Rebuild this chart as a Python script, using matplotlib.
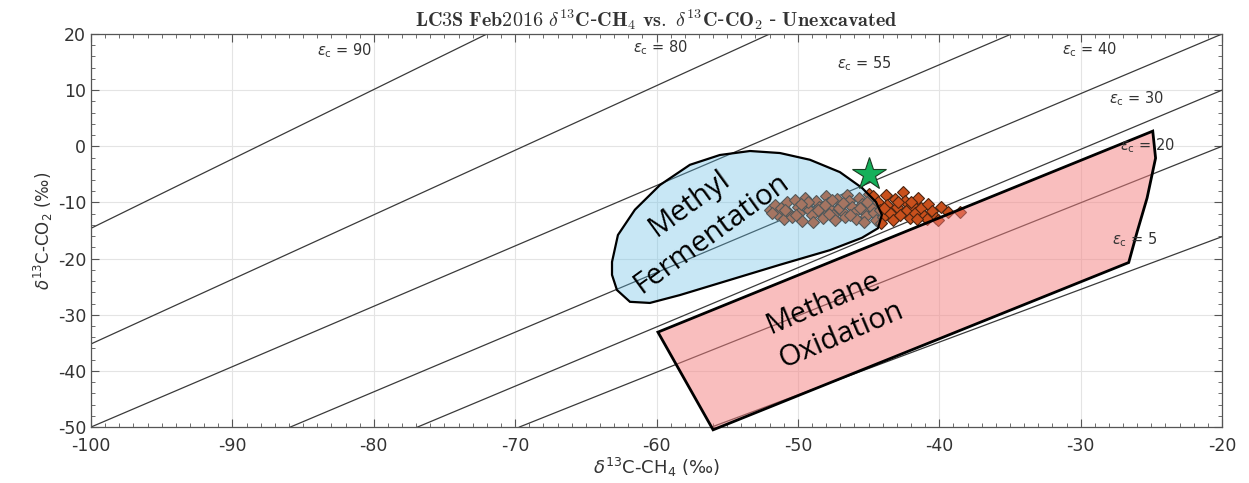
"""
plot.py
Carbon isotope cross-plot: d13C-CH4 vs d13C-CO2 with epsilon_c reference lines.
"""
import numpy as np
import matplotlib
matplotlib.use('Agg')
import matplotlib.pyplot as plt
from matplotlib.patches import Polygon
from matplotlib.ticker import MultipleLocator

plt.rcParams['axes.unicode_minus'] = False

# === DATA ===
# epsilon_c reference lines, endpoints (x = d13C-CH4, y = d13C-CO2)
eps_x0 = [-100.0, -100.0, -100.0, -85.9, -76.9, -69.7, -56.1]
eps_y0 = [-14.6, -35.2, -50.0, -50.0, -50.0, -50.0, -50.0]
eps_x1 = [-72.0, -52.0, -34.9, -20.0, -20.0, -20.0, -20.0]
eps_y1 = [20.0, 20.0, 20.0, 20.0, 10.0, 0.0, -16.1]

eps_labels = ['90', '80', '55', '40', '30', '20', '5']
eps_lab_x = [-84.0, -61.7, -47.2, -31.3, -28.0, -27.2, -27.8]
eps_lab_y = [17.1, 17.5, 14.8, 17.3, 8.4, 0.2, -16.7]

# samples
ch4 = [-52.0, -51.6, -51.5, -51.2, -51.0, -50.8, -50.6, -50.4, -50.2, -50.0,
       -49.9, -49.7, -49.5, -49.4, -49.2, -49.0, -48.9, -48.7, -48.5, -48.4,
       -48.2, -48.0, -47.9, -47.7, -47.5, -47.4, -47.2, -47.0, -46.9, -46.7,
       -46.5, -46.4, -46.2, -46.0, -45.9, -45.7, -45.5, -45.4, -45.2, -45.0,
       -44.9, -44.8, -44.6, -44.5, -51.8, -50.9, -50.1, -49.3, -48.6, -47.8,
       -47.1, -46.3, -45.6, -45.1, -48.1, -49.8, -46.8, -44.7, -45.3, -47.6,
       -44.3, -44.2, -44.0, -43.8, -43.7, -43.5, -43.3, -43.1, -43.0, -42.8,
       -42.6, -42.4, -42.3, -42.1, -41.9, -41.7, -41.5, -41.3, -41.1, -40.8,
       -40.5, -40.2, -39.9, -39.4, -38.5, -43.9, -42.9, -42.0, -40.9, -44.1,
       -41.6, -40.1]
co2 = [-11.3, -10.5, -12.0, -11.0, -13.0, -10.0, -11.8, -12.6, -9.6, -10.8,
       -11.9, -13.3, -9.2, -10.4, -11.4, -12.3, -13.5, -9.8, -10.9, -11.9,
       -12.8, -8.9, -10.1, -11.1, -12.2, -13.2, -9.4, -10.6, -11.6, -12.6,
       -8.6, -9.8, -10.9, -11.9, -13.0, -9.2, -10.3, -11.4, -12.4, -8.5,
       -9.7, -10.8, -11.8, -13.1, -11.8, -11.4, -12.2, -10.0, -11.4, -12.0,
       -11.0, -12.3, -11.0, -10.0, -10.4, -10.2, -10.1, -8.8, -13.4, -9.6,
       -9.9, -11.3, -12.6, -8.6, -10.5, -11.8, -13.2, -9.4, -10.9, -12.2,
       -8.2, -9.8, -11.4, -12.7, -10.5, -11.9, -9.2, -11.0, -12.4, -10.2,
       -11.6, -12.8, -10.9, -11.7, -11.7, -11.0, -9.9, -10.0, -13.0, -13.6,
       -12.9, -13.1]

star_x = [-45.0]
star_y = [-4.9]

# hand drawn regions
ferm_x = [-63.15, -62.73, -61.53, -59.76, -57.64, -55.52, -53.39, -51.27, -49.15, -47.03,
          -45.47, -44.48, -44.06, -44.34, -45.47, -47.74, -51.27, -54.81, -58.35, -60.47,
          -61.88, -62.80, -63.15]
ferm_y = [-20.6, -15.8, -11.3, -6.9, -3.3, -1.55, -0.84, -1.2, -2.4, -4.6,
          -7.4, -9.9, -12.2, -14.6, -16.3, -18.5, -21.1, -23.8, -26.5, -27.9,
          -27.7, -25.6, -22.9]
oxid_x = [-59.9, -56.0, -26.6, -26.0, -25.3, -24.7, -24.9]
oxid_y = [-33.1, -50.5, -20.7, -15.2, -9.2, -2.1, 2.7]

# === PLOT ===
fig = plt.figure(figsize=(12.49, 4.83), dpi=100)
ax = fig.add_axes([0.0729, 0.1159, 0.9055, 0.8137])

for x0, y0, x1, y1 in zip(eps_x0, eps_y0, eps_x1, eps_y1):
    ax.plot([x0, x1], [y0, y1], color='#3a3a3a', lw=0.9, zorder=2)

for lab, lx, ly in zip(eps_labels, eps_lab_x, eps_lab_y):
    ax.text(lx, ly, r'$\epsilon_{\rm c}$ = ' + lab, fontsize=10.5, color='#333333',
            ha='left', va='center', zorder=6)

ax.plot(ch4, co2, linestyle='none', marker='D', ms=6.5, mfc='#c9501c',
        mec='#4a2410', mew=0.8, zorder=3)

ax.add_patch(Polygon(np.column_stack([oxid_x, oxid_y]), closed=True,
                     facecolor='#f47f7f', alpha=0.5, edgecolor='none', zorder=4, clip_on=False))
ax.add_patch(Polygon(np.column_stack([oxid_x, oxid_y]), closed=True,
                     facecolor='none', edgecolor='black', lw=2, zorder=4, clip_on=False))
ax.add_patch(Polygon(np.column_stack([ferm_x, ferm_y]), closed=True,
                     facecolor='#62bde5', alpha=0.35, edgecolor='none', zorder=4))
ax.add_patch(Polygon(np.column_stack([ferm_x, ferm_y]), closed=True,
                     facecolor='none', edgecolor='black', lw=1.6, zorder=4))

ax.plot(star_x, star_y, linestyle='none', marker='*', ms=25, mfc='#14b05a',
        mec='#1b3b22', mew=0.8, zorder=7)

ax.text(-57.7, -10.3, 'Methyl', fontsize=21, family='Open Sans', rotation=36,
        ha='center', va='center', rotation_mode='anchor', zorder=6)
ax.text(-56.1, -15.5, 'Fermentation', fontsize=21, family='Open Sans', rotation=36,
        ha='center', va='center', rotation_mode='anchor', zorder=6)
ax.text(-48.2, -28.0, 'Methane', fontsize=21, family='Open Sans', rotation=23,
        ha='center', va='center', rotation_mode='anchor', zorder=6)
ax.text(-46.9, -33.6, 'Oxidation', fontsize=21, family='Open Sans', rotation=23,
        ha='center', va='center', rotation_mode='anchor', zorder=6)

ax.set_xlim(-100, -20)
ax.set_ylim(-50, 20)
ax.xaxis.set_major_locator(MultipleLocator(10))
ax.xaxis.set_minor_locator(MultipleLocator(1))
ax.yaxis.set_major_locator(MultipleLocator(10))
ax.yaxis.set_minor_locator(MultipleLocator(2))
ax.tick_params(which='both', direction='in', top=True, right=True,
               colors='#555555', labelcolor='#333333', labelsize=12.5)
ax.tick_params(axis='x', which='major', pad=7)
ax.tick_params(which='major', length=6, width=0.8)
ax.tick_params(which='minor', length=3, width=0.6)
ax.grid(True, which='major', color='#e4e4e4', lw=0.8, zorder=0)
ax.set_axisbelow(True)
for s in ax.spines.values():
    s.set_color('#555555')
    s.set_linewidth(0.9)

ax.set_xlabel(r'$\delta^{13}$C-CH$_4$ (‰)', fontsize=13, color='#333333', labelpad=1)
ax.set_ylabel(r'$\delta^{13}$C-CO$_2$ (‰)', fontsize=12, color='#333333', labelpad=2)
ax.set_title(r'$\mathbf{LC3S\ Feb2016\ }\delta^{\mathbf{13}}\mathbf{C}$-$\mathbf{CH}_\mathbf{4}\ \mathbf{vs.}\ '
             r'\delta^{\mathbf{13}}\mathbf{C}$-$\mathbf{CO}_\mathbf{2}\ $-$\ \mathbf{Unexcavated}$',
             fontsize=14.5, math_fontfamily='cm', color='#333333', pad=5)

fig.savefig('out.png', dpi=100)
